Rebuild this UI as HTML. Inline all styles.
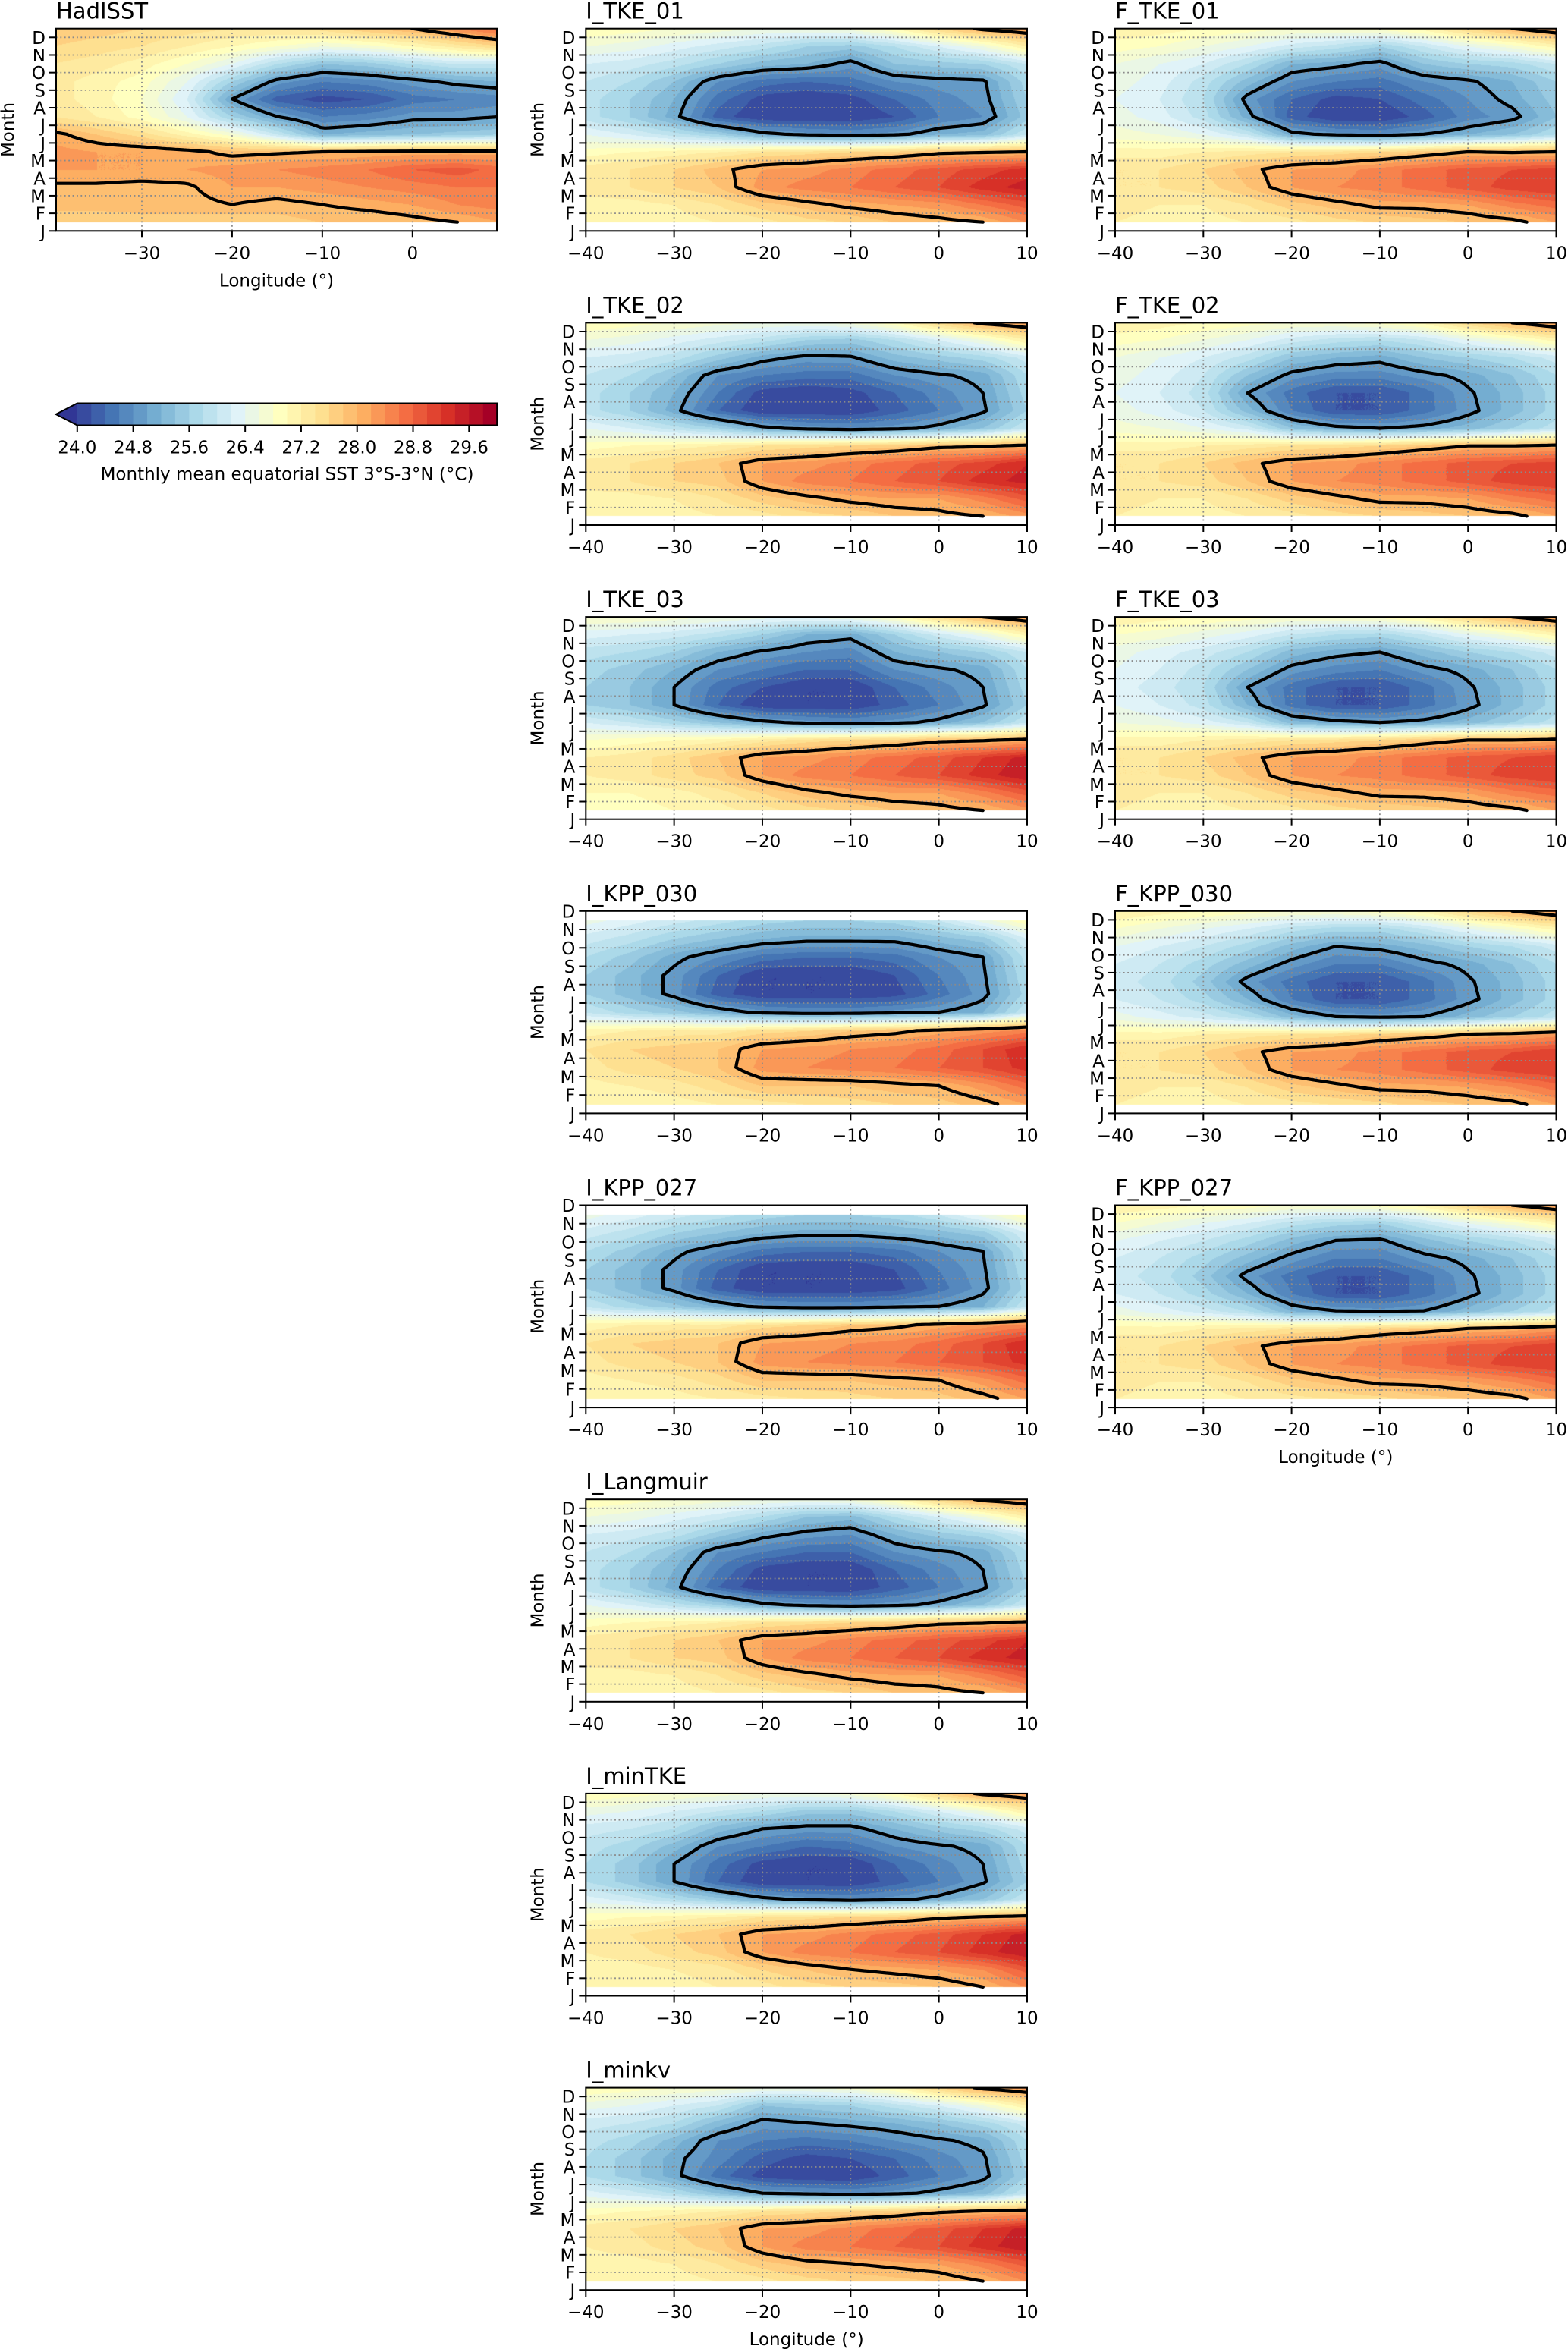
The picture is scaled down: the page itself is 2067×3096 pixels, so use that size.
<!DOCTYPE html>
<html>
<head>
<meta charset="utf-8">
<style>
html,body{margin:0;padding:0;background:#fff;}
body{width:2067px;height:3096px;position:relative;overflow:hidden;font-family:"DejaVu Sans","Liberation Sans",sans-serif;}
canvas{position:absolute;}
#overlay{position:absolute;left:0;top:0;}
</style>
</head>
<body>
<div id="fills"></div>
<svg id="overlay" width="2067" height="3096" xmlns="http://www.w3.org/2000/svg"></svg>
<script>
// ---------- data (SST, °C); rows = month centres 0.5..11.5 (J..D), cols = lons ----------
const lons = [-40,-35,-30,-25,-20,-15,-10,-5,0,5,10];
const monthCenters = [0.5,1.5,2.5,3.5,4.5,5.5,6.5,7.5,8.5,9.5,10.5,11.5];
const monthLabels = ['J','F','M','A','M','J','J','A','S','O','N','D'];
const contourLevels = [25.0, 28.0];
const cbTickValues = [24.0,24.8,25.6,26.4,27.2,28.0,28.8,29.6];
const cbTickLabels = ['24.0','24.8','25.6','26.4','27.2','28.0','28.8','29.6'];

const sstHadISST = [
[27.6,27.6,27.7,27.7,27.6,27.7,27.8,27.8,27.9,28.0,28.2],
[27.9,27.9,27.9,27.9,28.0,27.9,28.0,28.1,28.2,28.4,28.5],
[27.95,27.95,27.9,27.95,28.2,28.2,28.3,28.4,28.5,28.6,28.6],
[28.2,28.2,28.2,28.2,28.3,28.4,28.5,28.6,28.8,28.9,28.7],
[28.3,28.2,28.2,28.1,27.9,27.95,28.0,28.05,28.1,28.1,28.1],
[28.1,27.8,27.5,27.1,26.7,26.0,25.2,25.3,25.4,25.5,25.6],
[27.4,27.2,26.9,26.4,25.6,25.0,24.6,24.7,24.9,24.9,25.0],
[27.3,27.1,26.8,26.2,25.0,24.3,24.1,24.2,24.5,24.6,24.7],
[27.3,27.1,26.9,26.4,25.6,24.9,24.6,24.7,24.9,25.1,25.2],
[27.4,27.3,27.1,26.8,26.4,25.8,25.4,25.5,25.8,26.0,26.0],
[27.6,27.5,27.4,27.2,27.0,26.8,26.6,26.7,27.0,27.3,27.6],
[27.8,27.7,27.6,27.5,27.4,27.4,27.5,27.8,28.0,28.4,28.8]];

const sstITKE01 = [
[27.0,27.0,27.1,27.2,27.3,27.5,27.6,27.8,27.9,28.0,28.4],
[27.1,27.1,27.2,27.4,27.7,27.9,28.1,28.2,28.3,28.6,28.9],
[27.3,27.4,27.6,27.8,28.3,28.5,28.6,28.8,29.0,29.3,29.5],
[27.3,27.4,27.6,27.9,28.2,28.3,28.5,28.7,28.9,29.1,29.3],
[26.9,27.0,27.1,27.2,27.4,27.5,27.6,27.7,27.9,27.95,28.0],
[26.4,26.2,25.9,25.6,25.1,24.9,24.8,24.9,25.2,25.3,26.0],
[25.9,25.6,25.1,24.3,24.0,24.0,24.0,24.2,24.6,24.8,25.5],
[25.9,25.6,25.2,24.5,24.1,24.0,24.1,24.4,24.7,24.9,25.6],
[26.0,25.8,25.4,24.8,24.5,24.4,24.5,24.8,24.9,24.95,25.7],
[26.2,26.1,25.9,25.6,25.3,25.2,24.9,25.4,25.5,25.6,26.0],
[26.6,26.5,26.3,26.1,25.9,25.6,25.5,25.8,26.2,26.6,27.2],
[27.0,26.9,26.8,26.7,26.6,26.6,26.7,27.0,27.6,28.1,28.3]];

const sstITKE02 = [
[27.0,27.0,27.1,27.2,27.3,27.5,27.6,27.8,27.9,28.0,28.3],
[27.1,27.1,27.2,27.4,27.7,27.9,28.1,28.2,28.2,28.5,28.9],
[27.3,27.4,27.6,27.7,28.2,28.5,28.6,28.8,29.0,29.3,29.5],
[27.3,27.4,27.6,27.8,28.2,28.3,28.5,28.7,28.9,29.1,29.4],
[26.9,27.0,27.1,27.2,27.4,27.5,27.6,27.7,27.9,27.95,28.1],
[26.4,26.2,25.9,25.6,25.1,24.9,24.8,24.9,25.1,25.4,26.0],
[25.9,25.6,25.1,24.4,24.0,24.0,24.0,24.3,24.6,24.95,25.6],
[25.9,25.6,25.2,24.6,24.1,24.0,24.1,24.4,24.7,25.0,25.7],
[26.0,25.8,25.4,24.8,24.6,24.5,24.5,24.8,24.95,25.1,25.8],
[26.2,26.1,25.9,25.5,25.1,24.9,24.95,25.3,25.5,25.7,26.1],
[26.6,26.5,26.3,26.1,25.9,25.6,25.5,25.8,26.2,26.6,27.2],
[27.0,26.9,26.8,26.7,26.6,26.6,26.7,27.0,27.6,28.1,28.3]];

const sstITKE03 = [
[26.9,26.9,27.0,27.1,27.3,27.5,27.6,27.8,27.9,28.0,28.3],
[27.0,27.0,27.1,27.3,27.6,27.9,28.1,28.2,28.2,28.5,28.9],
[27.2,27.3,27.5,27.7,28.2,28.5,28.6,28.8,29.0,29.3,29.6],
[27.2,27.3,27.5,27.8,28.2,28.3,28.5,28.7,28.9,29.2,29.5],
[26.8,26.9,27.0,27.1,27.3,27.5,27.6,27.7,27.9,27.95,28.1],
[26.2,26.0,25.7,25.4,25.1,24.9,24.8,24.9,25.1,25.4,26.0],
[25.6,25.4,25.0,24.4,24.0,24.0,24.0,24.3,24.6,24.95,25.6],
[25.6,25.4,25.0,24.5,24.2,24.0,24.0,24.4,24.7,25.0,25.7],
[25.7,25.5,25.2,24.8,24.6,24.4,24.4,24.8,24.95,25.1,25.8],
[25.9,25.8,25.6,25.2,24.95,24.8,24.7,25.2,25.4,25.6,26.0],
[26.3,26.2,26.1,25.9,25.6,25.2,25.1,25.6,26.1,26.5,27.1],
[26.8,26.8,26.7,26.6,26.5,26.5,26.6,26.9,27.5,28.0,28.3]];

const sstIKPP030 = [
[27.0,27.0,27.1,27.2,27.3,27.4,27.5,27.6,27.7,27.9,28.2],
[27.1,27.2,27.3,27.5,27.8,27.8,27.8,27.9,28.0,28.3,28.7],
[27.3,27.5,27.6,27.8,28.3,28.4,28.5,28.6,28.8,29.0,29.3],
[27.4,27.6,27.7,27.8,28.2,28.3,28.4,28.5,28.7,29.0,29.4],
[27.1,27.2,27.3,27.3,27.5,27.6,27.8,27.9,28.1,28.3,28.5],
[26.0,25.7,25.5,25.2,24.9,24.8,24.8,24.9,25.0,25.2,26.0],
[25.6,25.3,24.9,24.3,24.0,24.0,24.0,24.1,24.5,24.9,25.7],
[25.6,25.3,24.9,24.4,24.0,24.0,24.0,24.2,24.6,24.95,25.8],
[25.8,25.5,25.1,24.8,24.5,24.4,24.4,24.5,24.8,25.0,25.9],
[26.1,25.9,25.6,25.4,25.2,25.1,25.1,25.1,25.3,25.5,26.2],
[26.5,26.3,26.1,25.9,25.7,25.6,25.6,25.7,26.0,26.5,27.0],
[26.9,26.8,26.7,26.6,26.5,26.5,26.6,26.8,27.2,27.6,28.0]];

const sstIKPP027 = [
[27.0,27.0,27.1,27.2,27.3,27.4,27.5,27.6,27.7,27.9,28.2],
[27.1,27.2,27.3,27.5,27.8,27.8,27.8,27.9,28.0,28.3,28.7],
[27.3,27.5,27.6,27.8,28.3,28.4,28.5,28.6,28.8,29.0,29.3],
[27.4,27.6,27.7,27.8,28.2,28.3,28.4,28.5,28.7,29.0,29.4],
[27.1,27.2,27.3,27.3,27.5,27.6,27.8,27.9,28.1,28.3,28.5],
[26.0,25.7,25.5,25.2,24.9,24.8,24.8,24.9,25.0,25.2,26.0],
[25.6,25.3,24.9,24.3,24.0,24.0,24.0,24.1,24.5,24.9,25.7],
[25.6,25.3,24.9,24.4,24.0,24.0,24.0,24.2,24.6,24.95,25.8],
[25.8,25.5,25.1,24.8,24.5,24.4,24.4,24.5,24.8,25.0,25.9],
[26.1,25.9,25.6,25.4,25.2,25.1,25.1,25.2,25.3,25.5,26.2],
[26.5,26.3,26.1,25.9,25.7,25.6,25.6,25.7,26.0,26.5,27.0],
[26.9,26.8,26.7,26.6,26.5,26.5,26.6,26.8,27.2,27.6,28.0]];

const sstILangmuir = [
[27.0,27.0,27.1,27.2,27.3,27.5,27.6,27.8,27.9,28.0,28.3],
[27.1,27.1,27.2,27.4,27.7,27.9,28.1,28.2,28.2,28.5,28.9],
[27.3,27.4,27.6,27.7,28.2,28.5,28.6,28.8,29.0,29.3,29.5],
[27.3,27.4,27.6,27.8,28.2,28.3,28.5,28.7,28.9,29.1,29.4],
[26.9,27.0,27.1,27.2,27.4,27.5,27.6,27.7,27.9,27.95,28.1],
[26.4,26.2,25.9,25.6,25.1,24.9,24.8,24.9,25.1,25.4,26.0],
[25.9,25.6,25.1,24.4,24.0,24.0,24.0,24.3,24.6,24.95,25.6],
[25.9,25.6,25.2,24.6,24.1,24.0,24.0,24.4,24.7,25.0,25.7],
[26.0,25.8,25.4,24.8,24.6,24.4,24.4,24.8,24.95,25.1,25.8],
[26.2,26.1,25.9,25.5,25.1,24.9,24.8,25.2,25.5,25.7,26.1],
[26.6,26.5,26.3,26.1,25.8,25.4,25.3,25.8,26.2,26.6,27.2],
[27.0,26.9,26.8,26.7,26.6,26.6,26.7,27.0,27.6,28.1,28.3]];

const sstIminTKE = [
[27.0,27.0,27.1,27.2,27.3,27.5,27.6,27.7,27.8,28.0,28.4],
[27.1,27.1,27.2,27.3,27.6,27.8,28.0,28.1,28.2,28.4,28.9],
[27.2,27.3,27.5,27.7,28.2,28.5,28.6,28.8,29.0,29.3,29.6],
[27.3,27.4,27.6,27.8,28.2,28.3,28.5,28.7,28.9,29.2,29.5],
[26.9,27.0,27.1,27.2,27.4,27.5,27.6,27.7,27.9,28.0,28.1],
[26.3,26.1,25.8,25.5,25.1,24.9,24.8,24.9,25.1,25.4,26.0],
[25.8,25.5,25.0,24.4,24.0,24.0,24.0,24.3,24.6,24.95,25.6],
[25.8,25.5,25.0,24.5,24.1,24.0,24.0,24.4,24.7,25.0,25.7],
[25.9,25.7,25.3,24.8,24.6,24.4,24.5,24.8,24.95,25.1,25.8],
[26.1,26.0,25.8,25.3,25.0,24.9,24.9,25.2,25.5,25.7,26.1],
[26.5,26.4,26.2,26.0,25.8,25.5,25.5,25.8,26.2,26.6,27.2],
[27.0,26.9,26.8,26.7,26.6,26.6,26.7,27.0,27.6,28.1,28.3]];

const sstIminkv = [
[27.0,27.0,27.1,27.2,27.3,27.5,27.6,27.7,27.8,28.0,28.4],
[27.1,27.1,27.2,27.4,27.7,27.9,28.0,28.1,28.2,28.5,28.9],
[27.2,27.3,27.5,27.7,28.2,28.5,28.6,28.8,29.0,29.3,29.6],
[27.3,27.4,27.6,27.8,28.2,28.3,28.5,28.7,28.9,29.2,29.5],
[26.9,27.0,27.1,27.2,27.4,27.5,27.6,27.7,27.9,28.0,28.1],
[26.3,26.1,25.8,25.4,25.0,24.9,24.8,24.9,25.1,25.3,26.0],
[25.8,25.5,25.1,24.5,24.1,24.0,24.0,24.3,24.6,24.9,25.6],
[25.8,25.5,25.1,24.7,24.3,24.1,24.2,24.4,24.7,24.95,25.7],
[25.9,25.7,25.3,24.8,24.6,24.5,24.6,24.8,24.95,25.1,25.8],
[26.1,26.0,25.8,25.3,24.9,25.0,25.1,25.2,25.4,25.7,26.1],
[26.5,26.4,26.2,26.0,25.4,25.5,25.6,25.9,26.2,26.6,27.2],
[27.0,26.9,26.8,26.7,26.6,26.6,26.7,27.0,27.6,28.1,28.3]];

const sstFTKE01 = [
[27.2,27.1,27.1,27.2,27.3,27.5,27.6,27.7,27.8,27.9,28.2],
[27.3,27.2,27.2,27.4,27.7,27.9,28.1,28.1,28.2,28.5,28.7],
[27.4,27.4,27.5,27.8,28.2,28.4,28.5,28.7,28.9,29.1,29.2],
[27.4,27.4,27.6,27.9,28.2,28.3,28.5,28.7,28.9,29.0,29.1],
[27.1,27.1,27.2,27.3,27.4,27.5,27.6,27.8,28.0,27.95,28.0],
[26.7,26.6,26.4,26.0,25.1,24.9,24.8,25.0,25.2,25.4,25.8],
[26.5,26.3,25.9,25.1,24.3,24.0,24.0,24.3,24.7,24.9,25.4],
[26.4,26.2,25.8,24.9,24.4,24.1,24.2,24.5,24.8,25.1,25.5],
[26.5,26.3,25.9,25.3,24.8,24.6,24.5,24.8,24.95,25.2,25.6],
[26.6,26.4,26.2,25.8,25.2,25.1,24.9,25.4,25.6,25.7,26.0],
[26.9,26.8,26.6,26.4,26.1,25.9,25.6,26.0,26.4,26.7,27.1],
[27.2,27.1,27.0,26.9,26.8,26.8,26.9,27.1,27.6,28.0,28.3]];

const sstFTKE02 = [
[27.2,27.1,27.1,27.2,27.3,27.5,27.6,27.7,27.8,27.9,28.2],
[27.3,27.2,27.2,27.4,27.7,27.9,28.1,28.1,28.2,28.5,28.7],
[27.4,27.4,27.5,27.8,28.2,28.4,28.5,28.7,28.9,29.1,29.2],
[27.4,27.4,27.6,27.9,28.2,28.3,28.5,28.7,28.9,29.0,29.1],
[27.1,27.1,27.2,27.3,27.4,27.5,27.6,27.8,28.0,28.0,28.1],
[26.7,26.6,26.4,26.1,25.4,25.1,25.0,25.1,25.3,25.6,25.9],
[26.5,26.3,26.0,25.3,24.6,24.2,24.2,24.5,24.9,25.3,25.7],
[26.4,26.2,25.9,25.0,24.5,24.2,24.2,24.5,24.95,25.3,25.7],
[26.5,26.3,26.0,25.4,24.9,24.7,24.7,24.9,25.1,25.4,25.8],
[26.6,26.4,26.2,25.9,25.4,25.2,25.1,25.4,25.6,25.8,26.1],
[26.9,26.8,26.6,26.4,26.1,25.9,25.8,26.0,26.4,26.7,27.1],
[27.2,27.1,27.0,26.9,26.8,26.8,26.9,27.1,27.6,28.0,28.3]];

const sstFTKE03 = [
[27.2,27.1,27.1,27.2,27.3,27.5,27.6,27.7,27.8,27.9,28.2],
[27.3,27.2,27.2,27.4,27.7,27.9,28.1,28.1,28.2,28.5,28.7],
[27.4,27.4,27.5,27.8,28.2,28.4,28.5,28.7,28.9,29.1,29.2],
[27.4,27.4,27.6,27.9,28.2,28.3,28.5,28.7,28.9,29.0,29.2],
[27.1,27.1,27.2,27.3,27.4,27.5,27.6,27.8,28.0,28.0,28.1],
[26.6,26.5,26.3,26.0,25.3,25.1,25.0,25.1,25.3,25.6,25.9],
[26.4,26.2,25.9,25.2,24.5,24.2,24.2,24.5,24.9,25.3,25.7],
[26.3,26.1,25.8,25.0,24.5,24.2,24.2,24.5,24.95,25.3,25.7],
[26.4,26.2,25.9,25.4,24.9,24.7,24.6,24.9,25.1,25.4,25.8],
[26.5,26.3,26.1,25.8,25.3,25.1,25.0,25.3,25.6,25.8,26.1],
[26.8,26.7,26.5,26.3,26.0,25.8,25.7,26.0,26.4,26.7,27.1],
[27.2,27.1,27.0,26.9,26.8,26.8,26.9,27.1,27.6,28.0,28.3]];

const sstFKPP030 = [
[27.2,27.1,27.1,27.2,27.3,27.4,27.5,27.7,27.8,27.9,28.2],
[27.3,27.2,27.2,27.4,27.7,27.9,28.1,28.1,28.2,28.4,28.7],
[27.4,27.4,27.5,27.8,28.2,28.4,28.5,28.7,28.9,29.1,29.2],
[27.4,27.4,27.6,27.9,28.2,28.3,28.5,28.7,28.9,29.0,29.2],
[27.1,27.1,27.2,27.3,27.4,27.5,27.7,27.8,28.0,28.1,28.3],
[26.5,26.3,26.1,25.8,25.3,25.0,24.9,25.0,25.3,25.6,25.9],
[26.2,26.0,25.7,25.2,24.6,24.2,24.2,24.5,24.9,25.3,25.7],
[26.1,25.9,25.5,24.9,24.5,24.2,24.2,24.5,24.95,25.3,25.7],
[26.2,26.0,25.7,25.3,24.9,24.6,24.6,24.9,25.1,25.4,25.8],
[26.4,26.2,26.0,25.7,25.3,25.0,25.1,25.3,25.6,25.8,26.1],
[26.8,26.6,26.4,26.2,25.9,25.7,25.7,26.0,26.4,26.7,27.1],
[27.2,27.1,27.0,26.9,26.8,26.8,26.9,27.1,27.6,28.0,28.3]];

const sstFKPP027 = [
[27.2,27.1,27.1,27.2,27.3,27.4,27.5,27.7,27.8,27.9,28.2],
[27.3,27.2,27.2,27.4,27.7,27.9,28.1,28.1,28.2,28.4,28.7],
[27.4,27.4,27.5,27.8,28.2,28.4,28.5,28.7,28.9,29.1,29.2],
[27.4,27.4,27.6,27.9,28.2,28.3,28.5,28.7,28.9,29.0,29.2],
[27.1,27.1,27.2,27.3,27.4,27.5,27.7,27.8,28.0,28.1,28.3],
[26.5,26.3,26.1,25.8,25.2,25.0,24.9,25.0,25.3,25.6,25.9],
[26.2,26.0,25.7,25.2,24.6,24.2,24.2,24.5,24.9,25.3,25.7],
[26.1,25.9,25.5,24.9,24.5,24.2,24.2,24.5,24.95,25.3,25.7],
[26.2,26.0,25.7,25.3,24.9,24.6,24.6,24.9,25.1,25.4,25.8],
[26.4,26.2,26.0,25.7,25.3,25.0,24.95,25.3,25.6,25.8,26.1],
[26.8,26.6,26.4,26.2,25.9,25.7,25.6,26.0,26.4,26.7,27.1],
[27.2,27.1,27.0,26.9,26.8,26.8,26.9,27.1,27.6,28.0,28.3]];

// ---------- layout ----------
const ROW0 = 37.7, PITCH = 387.7, PH = 266.6;
const COLS = {had:{x0:74,w:581}, mid:{x0:772.3,w:581.7}, right:{x0:1470,w:581.5}};
const panels = [
 {key:'hadisst', title:'HadISST', col:'had', row:0, xlim:[-39.5,9.35], ylim:[0,11.5], dataTop:11.5, data:sstHadISST, xticks:[-30,-20,-10,0], ylab:true, xlab:true},
 {key:'i-tke-01', title:'I_TKE_01', col:'mid', row:0, xlim:[-40,10], ylim:[0,11.5], dataTop:11.5, data:sstITKE01, xticks:[-40,-30,-20,-10,0,10], ylab:true, xlab:false},
 {key:'i-tke-02', title:'I_TKE_02', col:'mid', row:1, xlim:[-40,10], ylim:[0,11.5], dataTop:11.5, data:sstITKE02, xticks:[-40,-30,-20,-10,0,10], ylab:true, xlab:false},
 {key:'i-tke-03', title:'I_TKE_03', col:'mid', row:2, xlim:[-40,10], ylim:[0,11.5], dataTop:11.5, data:sstITKE03, xticks:[-40,-30,-20,-10,0,10], ylab:true, xlab:false},
 {key:'i-kpp-030', title:'I_KPP_030', col:'mid', row:3, xlim:[-40,10], ylim:[0,11], dataTop:10.5, data:sstIKPP030, xticks:[-40,-30,-20,-10,0,10], ylab:true, xlab:false},
 {key:'i-kpp-027', title:'I_KPP_027', col:'mid', row:4, xlim:[-40,10], ylim:[0,11], dataTop:10.5, data:sstIKPP027, xticks:[-40,-30,-20,-10,0,10], ylab:true, xlab:false},
 {key:'i-langmuir', title:'I_Langmuir', col:'mid', row:5, xlim:[-40,10], ylim:[0,11.5], dataTop:11.5, data:sstILangmuir, xticks:[-40,-30,-20,-10,0,10], ylab:true, xlab:false},
 {key:'i-mintke', title:'I_minTKE', col:'mid', row:6, xlim:[-40,10], ylim:[0,11.5], dataTop:11.5, data:sstIminTKE, xticks:[-40,-30,-20,-10,0,10], ylab:true, xlab:false},
 {key:'i-minkv', title:'I_minkv', col:'mid', row:7, xlim:[-40,10], ylim:[0,11.5], dataTop:11.5, data:sstIminkv, xticks:[-40,-30,-20,-10,0,10], ylab:true, xlab:true},
 {key:'f-tke-01', title:'F_TKE_01', col:'right', row:0, xlim:[-40,10], ylim:[0,11.5], dataTop:11.5, data:sstFTKE01, xticks:[-40,-30,-20,-10,0,10], ylab:false, xlab:false},
 {key:'f-tke-02', title:'F_TKE_02', col:'right', row:1, xlim:[-40,10], ylim:[0,11.5], dataTop:11.5, data:sstFTKE02, xticks:[-40,-30,-20,-10,0,10], ylab:false, xlab:false},
 {key:'f-tke-03', title:'F_TKE_03', col:'right', row:2, xlim:[-40,10], ylim:[0,11.5], dataTop:11.5, data:sstFTKE03, xticks:[-40,-30,-20,-10,0,10], ylab:false, xlab:false},
 {key:'f-kpp-030', title:'F_KPP_030', col:'right', row:3, xlim:[-40,10], ylim:[0,11.5], dataTop:11.5, data:sstFKPP030, xticks:[-40,-30,-20,-10,0,10], ylab:false, xlab:false},
 {key:'f-kpp-027', title:'F_KPP_027', col:'right', row:4, xlim:[-40,10], ylim:[0,11.5], dataTop:11.5, data:sstFKPP027, xticks:[-40,-30,-20,-10,0,10], ylab:false, xlab:true}
];

// ---------- colormap (RdYlBu_r) ----------
const stops = [[49,54,149],[69,117,180],[116,173,209],[171,217,233],[224,243,248],[255,255,191],[254,224,144],[253,174,97],[244,109,67],[215,48,39],[165,0,38]];
function cmap(t){
  t=Math.max(0,Math.min(1,t));
  const f=t*10, i=Math.min(9,Math.floor(f)), r=f-i;
  const a=stops[i], b=stops[i+1];
  return [0,1,2].map(k=>Math.round(a[k]+(b[k]-a[k])*r));
}
const NB=30, VMIN=24.0, VMAX=30.0, STEP=(VMAX-VMIN)/NB;
const binColors=[]; for(let i=0;i<NB;i++) binColors.push(cmap((i+1)/NB));
const underColor=cmap(0);
function colorFor(v){
  if(v<VMIN) return underColor;
  let i=Math.floor((v-VMIN)/STEP); if(i>NB-1) i=NB-1;
  return binColors[i];
}
function sample(data,lon,m){
  let fx=(lon-lons[0])/(lons[1]-lons[0]); fx=Math.max(0,Math.min(lons.length-1,fx));
  let fy=(m-monthCenters[0]); fy=Math.max(0,Math.min(monthCenters.length-1,fy));
  const ix=Math.min(lons.length-2,Math.floor(fx)), iy=Math.min(monthCenters.length-2,Math.floor(fy));
  const tx=fx-ix, ty=fy-iy;
  const a=data[iy][ix], b=data[iy][ix+1], c=data[iy+1][ix], d=data[iy+1][ix+1];
  return a*(1-tx)*(1-ty)+b*tx*(1-ty)+c*(1-tx)*ty+d*tx*ty;
}

const NS='http://www.w3.org/2000/svg';
const svg=document.getElementById('overlay');
const fills=document.getElementById('fills');
function el(tag,attrs,parent){const e=document.createElementNS(NS,tag);for(const k in attrs)e.setAttribute(k,attrs[k]);(parent||svg).appendChild(e);return e;}
function fmt(v){return (v<0?'\u2212':'')+Math.abs(v);}

panels.forEach(p=>{
  const C=COLS[p.col], x0=C.x0, w=C.w, y0=ROW0+PITCH*p.row, h=PH;
  const sx=lon=>x0+(lon-p.xlim[0])/(p.xlim[1]-p.xlim[0])*w;
  const sy=m=>y0+h-(m-p.ylim[0])/(p.ylim[1]-p.ylim[0])*h;
  const cv=document.createElement('canvas');
  
  
  const W=Math.round(w), H=Math.round(h);
  cv.width=W; cv.height=H; cv.style.left=x0+'px'; cv.style.top=y0+'px';
  const ctx=cv.getContext('2d'); const img=ctx.createImageData(W,H);
  for(let py=0;py<H;py++){
    const m=p.ylim[1]-(py+0.5)/H*(p.ylim[1]-p.ylim[0]);
    for(let px=0;px<W;px++){
      const o=(py*W+px)*4;
      if(m<monthCenters[0]||m>p.dataTop){img.data[o+3]=0;continue;}
      const lon=p.xlim[0]+(px+0.5)/W*(p.xlim[1]-p.xlim[0]);
      const c=colorFor(sample(p.data,lon,m));
      img.data[o]=c[0];img.data[o+1]=c[1];img.data[o+2]=c[2];img.data[o+3]=255;
    }
  }
  ctx.putImageData(img,0,0); fills.appendChild(cv);

  const g=el('g',{});
  
  
  const clipId='clip-'+p.key;
  const cp=el('clipPath',{id:clipId},g); el('rect',{x:x0,y:y0,width:w,height:h},cp);
  const grid=el('g',{stroke:'#8a8a8a','stroke-width':1.8,'stroke-dasharray':'1.8,3.6'},g);
  
  
  p.xticks.forEach(t=>{ if(t>p.xlim[0]+0.01&&t<p.xlim[1]-0.01) el('line',{x1:sx(t),x2:sx(t),y1:y0,y2:y0+h},grid); });
  monthLabels.forEach((lab,i)=>{ if(i>p.ylim[0]&&i<p.ylim[1]) el('line',{x1:x0,x2:x0+w,y1:sy(i),y2:sy(i)},grid); });
  const nx=101, ny=Math.round((p.dataTop-monthCenters[0])/0.1)+1;
  const glon=[],gm=[];
  for(let i=0;i<nx;i++) glon.push(p.xlim[0]+(p.xlim[1]-p.xlim[0])*i/(nx-1));
  for(let j=0;j<ny;j++) gm.push(monthCenters[0]+(p.dataTop-monthCenters[0])*j/(ny-1));
  const V=gm.map(m=>glon.map(l=>sample(p.data,l,m)));
  contourLevels.forEach(lev=>{
    let d='';
    const P=(i,j)=>[sx(glon[i]),sy(gm[j])];
    const lerp=(i1,j1,i2,j2)=>{const a=V[j1][i1],b=V[j2][i2];const t=(lev-a)/(b-a);const A=P(i1,j1),B=P(i2,j2);return [A[0]+(B[0]-A[0])*t,A[1]+(B[1]-A[1])*t];};
    for(let j=0;j<ny-1;j++)for(let i=0;i<nx-1;i++){
      const a=V[j][i]>=lev,b=V[j][i+1]>=lev,c=V[j+1][i+1]>=lev,e=V[j+1][i]>=lev;
      const pts=[];
      if(a!==b) pts.push(lerp(i,j,i+1,j));
      if(b!==c) pts.push(lerp(i+1,j,i+1,j+1));
      if(c!==e) pts.push(lerp(i+1,j+1,i,j+1));
      if(e!==a) pts.push(lerp(i,j+1,i,j));
      for(let k=0;k+1<pts.length;k+=2) d+='M'+pts[k][0].toFixed(1)+' '+pts[k][1].toFixed(1)+'L'+pts[k+1][0].toFixed(1)+' '+pts[k+1][1].toFixed(1);
    }
    if(d){
      const path=el('path',{d:d,fill:'none',stroke:'#000','stroke-width':4.2,'stroke-linecap':'round','clip-path':'url(#'+clipId+')'},g);
      
      
    }
  });
  const sp=el('rect',{x:x0,y:y0,width:w,height:h,fill:'none',stroke:'#000','stroke-width':2},g);
  
  
  p.xticks.forEach(t=>{
    const x=sx(t);
    el('line',{x1:x,x2:x,y1:y0+h,y2:y0+h+9,stroke:'#000','stroke-width':2},g);
    const tx=el('text',{x:x,y:y0+h+37,'text-anchor':'middle','font-size':23,fill:'#000'},g);
    tx.textContent=fmt(t);
    
    
  });
  monthLabels.forEach((lab,i)=>{
    if(i<p.ylim[0]||i>p.ylim[1]) return;
    const y=sy(i);
    el('line',{x1:x0-9,x2:x0,y1:y,y2:y,stroke:'#000','stroke-width':2},g);
    const ty=el('text',{x:x0-14,y:y+8.5,'text-anchor':'end','font-size':23,fill:'#000'},g);
    ty.textContent=lab;
    
    
  });
  const tt=el('text',{x:x0,y:y0-13,'font-size':29,fill:'#000'},g);
  tt.textContent=p.title;
  
  
  if(p.ylab){
    const cx=x0-56, cy=y0+h/2;
    const yl=el('text',{x:cx,y:cy,'text-anchor':'middle','font-size':23,fill:'#000',transform:'rotate(-90 '+cx+' '+cy+')'},g);
    yl.textContent='Month';
    
    
  }
  if(p.xlab){
    const xl=el('text',{x:x0+w/2,y:y0+h+73,'text-anchor':'middle','font-size':23,fill:'#000'},g);
    xl.textContent='Longitude (\u00b0)';
    
    
  }
});

// ---------- colorbar ----------
(function(){
  const cx0=101.8, cx1=655.2, tip=73.7, cy0=531.5, cy1=560.5;
  const g=el('g',{});
  
  
  const bx=v=>cx0+(v-VMIN)/(VMAX-VMIN)*(cx1-cx0);
  const arrow=el('polygon',{points:tip+','+(cy0+cy1)/2+' '+cx0+','+cy0+' '+cx0+','+cy1,fill:'rgb('+underColor.join(',')+')'},g);
  
  
  for(let i=0;i<NB;i++){
    const r=el('rect',{x:bx(VMIN+i*STEP),y:cy0,width:bx(VMIN+(i+1)*STEP)-bx(VMIN+i*STEP)+0.6,height:cy1-cy0,fill:'rgb('+binColors[i].join(',')+')'},g);
    
    
  }
  el('polygon',{points:tip+','+(cy0+cy1)/2+' '+cx0+','+cy0+' '+cx1+','+cy0+' '+cx1+','+cy1+' '+cx0+','+cy1,fill:'none',stroke:'#000','stroke-width':2},g);
  cbTickValues.forEach((v,i)=>{
    const x=bx(v);
    el('line',{x1:x,x2:x,y1:cy1,y2:cy1+9,stroke:'#000','stroke-width':2},g);
    const t=el('text',{x:x,y:cy1+37,'text-anchor':'middle','font-size':23,fill:'#000'},g);
    t.textContent=cbTickLabels[i];
    
    
  });
  const lab=el('text',{x:(cx0+cx1)/2,y:cy1+72,'text-anchor':'middle','font-size':23,fill:'#000'},g);
  lab.textContent='Monthly mean equatorial SST 3\u00b0S-3\u00b0N (\u00b0C)';
  
  
})();
</script>
</body>
</html>
